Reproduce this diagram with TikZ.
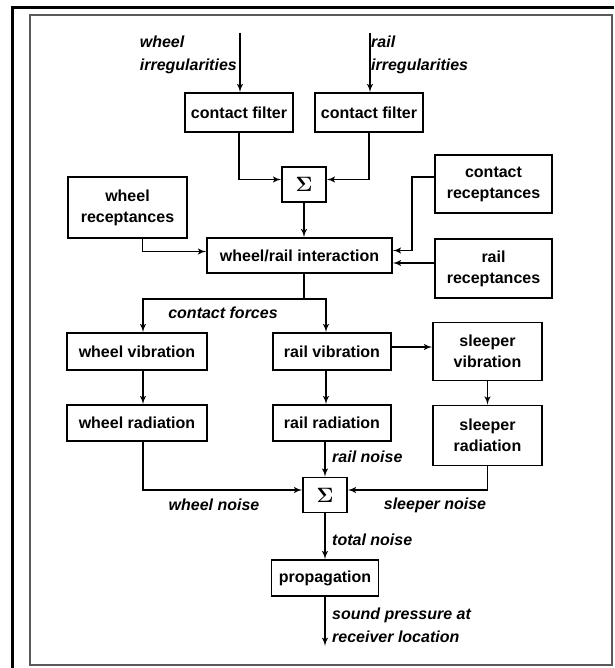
\documentclass[tikz,border=0pt]{standalone}
\usepackage{fontspec}
\setmainfont{Liberation Sans}
\usepackage{amsmath}
\usetikzlibrary{arrows,positioning,calc}
\tikzset{
	block/.style = {draw, fill=white, rectangle, line width=1.8pt, inner sep=2pt, align=center,
		font=\fontsize{16}{21}\selectfont\bfseries},
	sum/.style   = {draw, fill=white, rectangle, line width=1.8pt, minimum width=44pt, minimum height=35pt,
		font=\fontsize{20}{20}\selectfont},
	tmp/.style   = {coordinate},
	lbl/.style   = {inner sep=0pt, align=left, font=\fontsize{16}{23}\selectfont\bfseries\itshape},
	sig/.style   = {line width=1.8pt, ->}
}

\begin{document}
\begin{tikzpicture}[x=1pt,y=-1pt,>=latex']
	\useasboundingbox (0,0) rectangle (614,668);
	\fill [white] (0,0) rectangle (614,668);
	% frame
	\draw [line width=3pt] (12,668) -- (12,8) -- (614,8);
	\draw [line width=1.2pt, black!65] (30,15) rectangle (612,665);

	% contact part
	\node [block, minimum width=108pt, minimum height=39pt] (filterL) at (239,112.5) {contact filter};
	\node [block, minimum width=108pt, minimum height=39pt, right of=filterL, node distance=130pt] (filterR) {contact filter};
	\node [sum] (sumA) at (304,184.5) {$\boldsymbol{\Sigma}$};
	\node [block, minimum width=119pt, minimum height=61pt] (wheelrec) at (127.5,207.5) {wheel\\receptances};
	\node [block, minimum width=117pt, minimum height=58pt] (contrec) at (493.5,184) {contact\\receptances};
	\node [block, minimum width=117pt, minimum height=59pt, below of=contrec, node distance=84.5pt] (railrec) {rail\\receptances};
	\node [block, minimum width=185pt, minimum height=35pt] (inter) at (299.5,255.5) {wheel/rail interaction};

	% vibration and radiation
	\node [block, minimum width=140pt, minimum height=37pt] (wheelvib) at (137,351.5) {wheel vibration};
	\node [block, minimum width=140pt, minimum height=36pt, below of=wheelvib, node distance=71.5pt] (wheelrad) {wheel radiation};
	\node [block, minimum width=118pt, minimum height=37pt, right of=wheelvib, node distance=195pt] (railvib) {rail vibration};
	\node [block, minimum width=118pt, minimum height=36pt, below of=railvib, node distance=71.5pt] (railrad) {rail radiation};
	\node [block, minimum width=109pt, minimum height=58pt, right of=railvib, node distance=155.5pt] (sleepvib) {sleeper\\vibration};
	\node [block, minimum width=109pt, minimum height=60pt, below of=sleepvib, node distance=84pt] (sleeprad) {sleeper\\radiation};

	% noise
	\node [sum] (sumB) at (325,495) {$\boldsymbol{\Sigma}$};
	\node [block, minimum width=107pt, minimum height=36pt, below of=sumB, node distance=83pt] (prop) {propagation};

	\coordinate (inW) at (240,33);
	\coordinate (inR) at (370,33);
	\coordinate (out) at ($(prop.south)+(0,-49pt)$);

	\draw [sig] (inW) -- (inW |- filterL.north);
	\draw [sig] (inR) -- (inR |- filterR.north);
	\draw [sig] (filterL.south) |- ([yshift=5pt]sumA.west);
	\draw [sig] (filterR.south) |- ([yshift=5pt]sumA.east);
	\draw [sig] (sumA.south) -- (sumA.south |- inter.north);
	\draw [sig] ([xshift=15pt]wheelrec.south) |- ([yshift=4pt]inter.west);
	\draw [sig] ([yshift=7pt]contrec.west) -- ++(-22pt,0) |- ([yshift=5pt]inter.east);
	\coordinate (rr) at ([yshift=5.5pt]railrec.west);
	\draw [sig] (rr) -- (rr -| inter.east);

	\draw [line width=1.8pt] (sumA |- inter.south) -- ++(0,-25pt) coordinate (split);
	\draw [sig] (split) -| ([xshift=6pt]wheelvib.north);
	\draw [sig] (split) -| ([xshift=-6pt]railvib.north);
	\draw [sig] ([xshift=6pt]wheelvib.south) -- ([xshift=6pt]wheelrad.north);
	\draw [sig] ([xshift=-6pt]railvib.south) -- ([xshift=-6pt]railrad.north);
	\coordinate (rv) at ([yshift=4.5pt]railvib.east);
	\draw [sig] (rv) -- (rv -| sleepvib.west);
	\draw [sig] (sleepvib.south) -- (sleeprad.north);

	\draw [sig] ([xshift=6pt]wheelrad.south) |- ([yshift=5pt]sumB.west);
	\draw [sig] (sleeprad.south) |- ([yshift=5pt]sumB.east);
	\draw [sig] (railrad.south -| sumB.north) -- (sumB.north);
	\draw [sig] (sumB.south) -- (sumB.south |- prop.north);
	\draw [sig] (prop.south) -- (out);

	% labels
	\node [lbl, anchor=east] (lblW) at (237,55) {wheel\\irregularities};
	\node [lbl, anchor=west] (lblR) at (371,55) {rail\\irregularities};
	\node [lbl] (lblF) at (223,313) {contact forces};
	\node [lbl, anchor=west] (lblRN) at (332,457) {rail noise};
	\node [lbl] (lblWN) at (214,505) {wheel noise};
	\node [lbl] (lblSN) at (435,505) {sleeper noise};
	\node [lbl, anchor=west] (lblTN) at (332,540) {total noise};
	\node [lbl, anchor=west] (lblSP) at (332,625) {sound pressure at\\receiver location};
\end{tikzpicture}
\end{document}
